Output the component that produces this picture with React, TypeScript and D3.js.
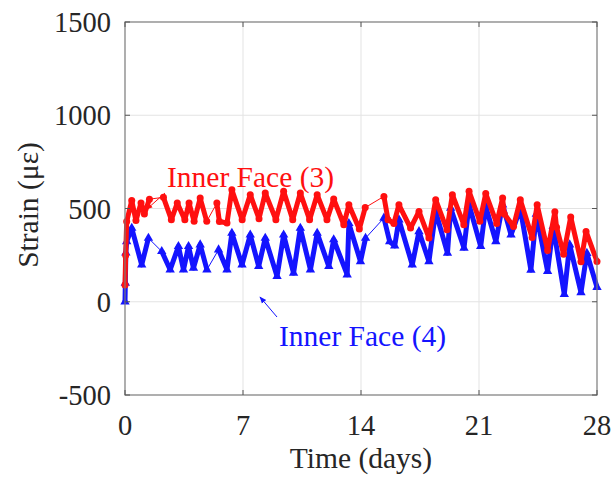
import React from "react";
import * as d3 from "d3";

const xTicks = [0, 7, 14, 21, 28];
const yTicks = [-500, 0, 500, 1000, 1500];

const redDays = [0, 0.04, 0.1, 0.4, 0.65, 0.95, 1.15, 1.45, 2.28, 2.75, 3.1, 3.55, 3.8, 4.1, 4.46, 4.85, 5.45, 5.6, 6.05, 6.34, 6.95, 7.43, 7.95, 8.32, 8.95, 9.41, 9.95, 10.4, 10.95, 11.4, 11.98, 12.38, 12.98, 13.28, 13.9, 14.25, 15.36, 15.6, 15.95, 16.25, 16.94, 17.44, 18.03, 18.43, 19.1, 19.42, 20.1, 20.41, 21.05, 21.4, 22.05, 22.4, 22.5, 23.05, 23.45, 24.15, 24.45, 25.07, 25.5, 25.6, 26.02, 26.44, 27.05, 27.35, 28];
const redStrain = [90, 250, 430, 543, 435, 530, 470, 550, 560, 440, 529, 440, 529, 431, 556, 431, 529, 430, 422, 600, 440, 574, 445, 583, 440, 592, 440, 583, 440, 574, 440, 551, 413, 520, 390, 505, 565, 440, 420, 520, 395, 484, 342, 547, 386, 574, 413, 592, 431, 580, 420, 556, 470, 404, 547, 345, 520, 275, 482, 400, 255, 455, 215, 377, 216];
const redGapStarts = [1.45, 4.85, 14.25];

const blueDays = [0, 0.02, 0.05, 0.1, 0.4, 0.99, 1.39, 2.18, 2.68, 3.17, 3.47, 3.77, 4.06, 4.46, 4.86, 5.55, 6.05, 6.34, 6.94, 7.43, 7.93, 8.32, 9.02, 9.41, 10.0, 10.4, 11.0, 11.4, 12.09, 12.38, 13.18, 13.28, 13.97, 14.27, 15.36, 15.7, 16.0, 16.25, 17.04, 17.44, 18.03, 18.43, 19.13, 19.32, 20.11, 20.41, 21.1, 21.4, 22.0, 22.4, 22.9, 23.45, 24.08, 24.4, 25.07, 25.4, 26.06, 26.38, 27.05, 27.4, 28];
const blueStrain = [0, 100, 262, 323, 395, 198, 341, 270, 172, 297, 172, 297, 181, 306, 172, 279, 172, 368, 198, 359, 190, 341, 136, 359, 154, 395, 172, 368, 190, 333, 145, 420, 216, 341, 449, 323, 300, 440, 198, 377, 216, 484, 261, 502, 288, 520, 297, 511, 323, 520, 359, 500, 170, 470, 163, 404, 40, 306, 50, 260, 78];
const blueGapStarts = [1.39, 4.86, 14.27];

const RED = "#ff1010";
const BLUE = "#1414ff";
const FONT = "'Liberation Serif', 'Times New Roman', serif";

const L = 125, R = 597, T = 22, B = 395;

function runs(days: number[], vals: number[], gaps: number[]) {
  const out: [number, number][][] = [];
  let cur: [number, number][] = [];
  days.forEach((d, i) => {
    cur.push([d, vals[i]]);
    if (gaps.includes(d)) {
      out.push(cur);
      cur = [];
    }
  });
  if (cur.length) out.push(cur);
  return out;
}

export default function App() {
  const x = d3.scaleLinear().domain([0, 28]).range([L, R]);
  const y = d3.scaleLinear().domain([-500, 1500]).range([B, T]);
  const line = d3
    .line<[number, number]>()
    .x((d) => x(d[0]))
    .y((d) => y(d[1]));

  const redPts = redDays.map((d, i) => [d, redStrain[i]] as [number, number]);
  const bluePts = blueDays.map((d, i) => [d, blueStrain[i]] as [number, number]);
  const tri = d3.symbol().type(d3.symbolTriangle).size(38)();

  return (
    <svg width={611} height={480} style={{ position: "absolute", left: 0, top: 0, background: "#fff" }}>
      <defs>
        <marker id="arrR" viewBox="0 0 10 10" refX="9" refY="5" markerWidth="6" markerHeight="6" orient="auto-start-reverse">
          <path d="M0,1 L10,5 L0,9 z" fill={RED} />
        </marker>
        <marker id="arrB" viewBox="0 0 10 10" refX="9" refY="5" markerWidth="7" markerHeight="7" orient="auto-start-reverse">
          <path d="M0,1 L10,5 L0,9 z" fill={BLUE} />
        </marker>
      </defs>
      <rect x={L} y={T} width={R - L} height={B - T} fill="#fff" />
      {xTicks.slice(1, -1).map((t) => (
        <line key={"gx" + t} x1={x(t)} x2={x(t)} y1={T} y2={B} stroke="#e3e3e3" strokeWidth={1} />
      ))}
      {yTicks.slice(1, -1).map((t) => (
        <line key={"gy" + t} x1={L} x2={R} y1={y(t)} y2={y(t)} stroke="#e3e3e3" strokeWidth={1} />
      ))}
      <path d={line(bluePts) || ""} fill="none" stroke={BLUE} strokeWidth={1} />
      {runs(blueDays, blueStrain, blueGapStarts).map((r, i) => (
        <path key={"br" + i} d={line(r) || ""} fill="none" stroke={BLUE} strokeWidth={5} strokeLinejoin="round" />
      ))}
      {bluePts.map((p, i) => (
        <path key={"bm" + i} d={tri || ""} transform={`translate(${x(p[0])},${y(p[1])})`} fill={BLUE} />
      ))}
      <path d={line(redPts) || ""} fill="none" stroke={RED} strokeWidth={1} />
      {runs(redDays, redStrain, redGapStarts).map((r, i) => (
        <path key={"rr" + i} d={line(r) || ""} fill="none" stroke={RED} strokeWidth={5} strokeLinejoin="round" />
      ))}
      {redPts.map((p, i) => (
        <circle key={"rm" + i} cx={x(p[0])} cy={y(p[1])} r={3.5} fill={RED} />
      ))}
      <rect x={L} y={T} width={R - L} height={B - T} fill="none" stroke="#7a7a7a" strokeWidth={1.2} />
      {xTicks.map((t) => (
        <g key={"xt" + t}>
          <line x1={x(t)} x2={x(t)} y1={B} y2={B - 5} stroke="#555" />
          <line x1={x(t)} x2={x(t)} y1={T} y2={T + 5} stroke="#555" />
          <text x={x(t)} y={435} textAnchor="middle" fontFamily={FONT} fontSize={28.5} fill="#262626">
            {t}
          </text>
        </g>
      ))}
      {yTicks.map((t) => (
        <g key={"yt" + t}>
          <line x1={L} x2={L + 5} y1={y(t)} y2={y(t)} stroke="#555" />
          <line x1={R} x2={R - 5} y1={y(t)} y2={y(t)} stroke="#555" />
          <text x={111} y={y(t) + 10} textAnchor="end" fontFamily={FONT} fontSize={28.5} fill="#262626">
            {t}
          </text>
        </g>
      ))}
      <text x={361} y={468} textAnchor="middle" fontFamily={FONT} fontSize={29.5} fill="#262626">
        Time (days)
      </text>
      <text transform={`translate(38,205) rotate(-90)`} textAnchor="middle" fontFamily={FONT} fontSize={29.5} fill="#262626">
        Strain (με)
      </text>
      <line x1={165} y1={193} x2={147} y2={209} stroke={RED} strokeWidth={1} markerEnd="url(#arrR)" />
      <text x={167} y={187} fontFamily={FONT} fontSize={29.5} fill={RED}>
        Inner Face (3)
      </text>
      <line x1={277} y1={317} x2={260} y2={297} stroke={BLUE} strokeWidth={1} markerEnd="url(#arrB)" />
      <text x={279} y={346} fontFamily={FONT} fontSize={29.5} fill={BLUE}>
        Inner Face (4)
      </text>
    </svg>
  );
}
